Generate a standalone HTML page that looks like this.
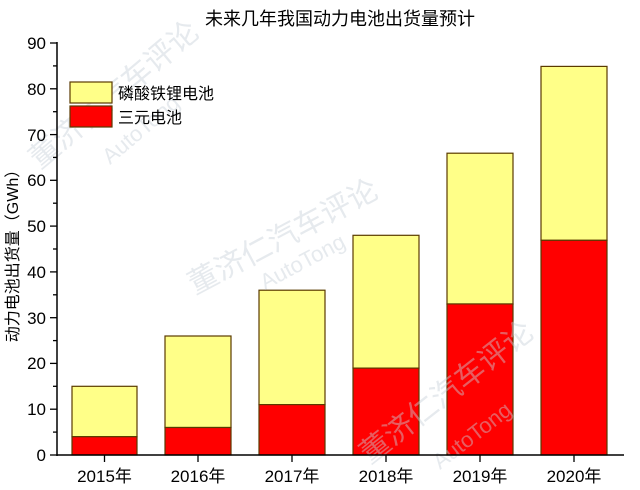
<!DOCTYPE html>
<html><head><meta charset="utf-8"><style>
body{margin:0;background:#fff}
svg{display:block}
text{font-family:"Liberation Sans","Noto Sans CJK SC",sans-serif}
</style></head><body>
<svg width="640" height="490" xmlns="http://www.w3.org/2000/svg">
<rect width="640" height="490" fill="#fff"/>
<text x="340" y="25" font-size="18" text-anchor="middle" fill="#000">未来几年我国动力电池出货量预计</text>
<g stroke="#5a3a00" stroke-width="1.2">
<rect x="72" y="386.3" width="65" height="50.4" fill="#ffff88"/>
<rect x="72" y="436.7" width="65" height="18.3" fill="#ff0000"/>
<rect x="165" y="336" width="66" height="91.5" fill="#ffff88"/>
<rect x="165" y="427.5" width="66" height="27.5" fill="#ff0000"/>
<rect x="259" y="290.2" width="66" height="114.4" fill="#ffff88"/>
<rect x="259" y="404.6" width="66" height="50.4" fill="#ff0000"/>
<rect x="353" y="235.3" width="66" height="132.8" fill="#ffff88"/>
<rect x="353" y="368.1" width="66" height="86.9" fill="#ff0000"/>
<rect x="447" y="153.2" width="66" height="151.1" fill="#ffff88"/>
<rect x="447" y="303.9" width="66" height="151.1" fill="#ff0000"/>
<rect x="541" y="66.4" width="66" height="173.9" fill="#ffff88"/>
<rect x="541" y="240.3" width="66" height="214.7" fill="#ff0000"/>
</g>
<g fill="#c8d0d8" opacity="0.45" font-size="30">
<text transform="translate(40,170) rotate(-40)">董济仁汽车评论</text>
<text transform="translate(110,165) rotate(-40)" font-size="22">AutoTong</text>
<text transform="translate(195,295) rotate(-28)">董济仁汽车评论</text>
<text transform="translate(265,290) rotate(-28)" font-size="22">AutoTong</text>
<text transform="translate(370,465) rotate(-38)">董济仁汽车评论</text>
<text transform="translate(440,470) rotate(-38)" font-size="22">AutoTong</text>
</g>
<g stroke="#000" stroke-width="1.5" fill="none">
<line x1="57" y1="42" x2="57" y2="456"/>
<line x1="57" y1="455" x2="624" y2="455"/>
</g>
<g stroke="#000" stroke-width="1.3">
<line x1="50" y1="455" x2="57" y2="455"/><line x1="50" y1="409.2" x2="57" y2="409.2"/>
<line x1="50" y1="363.4" x2="57" y2="363.4"/><line x1="50" y1="317.7" x2="57" y2="317.7"/>
<line x1="50" y1="271.9" x2="57" y2="271.9"/><line x1="50" y1="226.1" x2="57" y2="226.1"/>
<line x1="50" y1="180.3" x2="57" y2="180.3"/><line x1="50" y1="134.6" x2="57" y2="134.6"/>
<line x1="50" y1="88.8" x2="57" y2="88.8"/><line x1="50" y1="43" x2="57" y2="43"/>
<line x1="53" y1="432.1" x2="57" y2="432.1"/><line x1="53" y1="386.3" x2="57" y2="386.3"/>
<line x1="53" y1="340.6" x2="57" y2="340.6"/><line x1="53" y1="294.8" x2="57" y2="294.8"/>
<line x1="53" y1="249" x2="57" y2="249"/><line x1="53" y1="203.2" x2="57" y2="203.2"/>
<line x1="53" y1="157.4" x2="57" y2="157.4"/><line x1="53" y1="111.7" x2="57" y2="111.7"/>
<line x1="53" y1="65.9" x2="57" y2="65.9"/>
<line x1="104.5" y1="455" x2="104.5" y2="462"/><line x1="198" y1="455" x2="198" y2="462"/>
<line x1="292" y1="455" x2="292" y2="462"/><line x1="386" y1="455" x2="386" y2="462"/>
<line x1="480" y1="455" x2="480" y2="462"/><line x1="574" y1="455" x2="574" y2="462"/>
</g>
<g font-size="17" text-anchor="end" fill="#000">
<text x="46" y="461">0</text><text x="46" y="415">10</text><text x="46" y="369">20</text>
<text x="46" y="324">30</text><text x="46" y="278">40</text><text x="46" y="232">50</text>
<text x="46" y="186">60</text><text x="46" y="141">70</text><text x="46" y="95">80</text>
<text x="46" y="49">90</text>
</g>
<g font-size="17" text-anchor="middle" fill="#000">
<text x="104.5" y="482">2015年</text><text x="198" y="482">2016年</text>
<text x="292" y="482">2017年</text><text x="386" y="482">2018年</text>
<text x="480" y="482">2019年</text><text x="574" y="482">2020年</text>
</g>
<text transform="translate(18,252) rotate(-90)" font-size="16" text-anchor="middle" fill="#000">动力电池出货量（GWh）</text>
<g stroke="#5a3a00" stroke-width="1.2">
<rect x="70" y="82" width="42" height="21" fill="#ffff88"/>
<rect x="70" y="106" width="42" height="21" fill="#ff0000"/>
</g>
<g font-size="16" fill="#000">
<text x="118" y="99">磷酸铁锂电池</text>
<text x="118" y="123">三元电池</text>
</g>
</svg>
</body></html>
